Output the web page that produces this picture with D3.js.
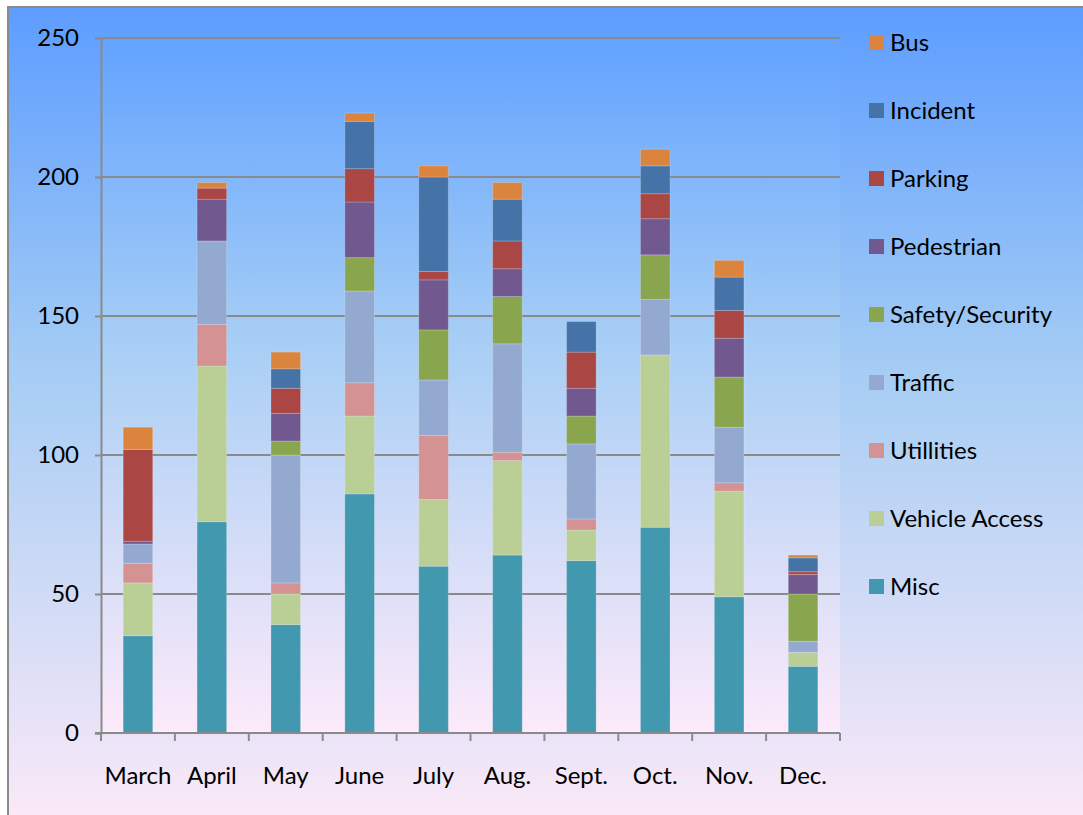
<!DOCTYPE html>
<html>
<head>
<meta charset="utf-8">
<script src="https://cdn.jsdelivr.net/npm/d3@7"></script>
<style>
  body { margin: 0; background: white; }
  text { font-family: Lato, "Open Sans", sans-serif; }
</style>
</head>
<body>
<div id="chart"></div>
<script>
/* CONSTANTS AND GLOBALS */
const width = 1083;
const height = 815;

/* DATA */
const months = ["March", "April", "May", "June", "July", "Aug.", "Sept.", "Oct.", "Nov.", "Dec."];
const categories = ["Misc", "Vehicle Access", "Utillities", "Traffic", "Safety/Security", "Pedestrian", "Parking", "Incident", "Bus"];

const misc          = [35, 76, 39, 86, 60, 64, 62, 74, 49, 24];
const vehicleAccess = [19, 56, 11, 28, 24, 34, 11, 62, 38, 5];
const utilities     = [7, 15, 4, 12, 23, 3, 4, 0, 3, 0];
const traffic       = [7, 30, 46, 33, 20, 39, 27, 20, 20, 4];
const safety        = [0, 0, 5, 12, 18, 17, 10, 16, 18, 17];
const pedestrian    = [1, 15, 10, 20, 18, 10, 10, 13, 14, 7];
const parking       = [33, 4, 9, 12, 3, 10, 13, 9, 10, 1];
const incident      = [0, 0, 7, 17, 34, 15, 11, 10, 12, 5];
const bus           = [8, 2, 6, 3, 4, 6, 0, 6, 6, 1];

const yTicks = [0, 50, 100, 150, 200, 250];

const colors = ["#4198af", "#b9cf96", "#d49292", "#94a9cf", "#89a54e", "#71588f", "#aa4643", "#4572a7", "#db843d"];

// table for d3.stack
const seriesValues = [misc, vehicleAccess, utilities, traffic, safety, pedestrian, parking, incident, bus];
const table = months.map((m, i) => {
  const row = { month: m };
  categories.forEach((c, j) => row[c] = seriesValues[j][i]);
  return row;
});

const stacked = d3.stack().keys(categories)(table);

/* SCALES */
const plot = { left: 101, right: 840, top: 38, bottom: 733 };

const xScale = d3.scaleBand()
  .domain(months)
  .range([plot.left, plot.right])
  .paddingInner(0.6)
  .paddingOuter(0.3);

const yScale = d3.scaleLinear()
  .domain([0, 250])
  .range([plot.bottom, plot.top]);

const color = d3.scaleOrdinal().domain(categories).range(colors);

/* HTML ELEMENTS */
const svg = d3.select("#chart")
  .append("svg")
  .attr("width", width)
  .attr("height", height);

const defs = svg.append("defs");
const outerGrad = defs.append("linearGradient")
  .attr("id", "outerGrad").attr("x1", 0).attr("y1", 0).attr("x2", 0).attr("y2", 1);
outerGrad.append("stop").attr("offset", "0%").attr("stop-color", "#5d9dff");
outerGrad.append("stop").attr("offset", "45%").attr("stop-color", "#a6cdf4");
outerGrad.append("stop").attr("offset", "100%").attr("stop-color", "#fbe9f8");

const plotGrad = defs.append("linearGradient")
  .attr("id", "plotGrad").attr("x1", 0).attr("y1", 0).attr("x2", 0).attr("y2", 1);
plotGrad.append("stop").attr("offset", "0%").attr("stop-color", "#62a3ff");
plotGrad.append("stop").attr("offset", "45%").attr("stop-color", "#a9cff5");
plotGrad.append("stop").attr("offset", "100%").attr("stop-color", "#fdeafa");

// outer chart area
svg.append("rect")
  .attr("x", 8).attr("y", 7)
  .attr("width", width).attr("height", height)
  .attr("fill", "url(#outerGrad)")
  .attr("stroke", "#8a8a8a")
  .attr("stroke-width", 2);

// plot area
svg.append("rect")
  .attr("x", plot.left).attr("y", plot.top)
  .attr("width", plot.right - plot.left)
  .attr("height", plot.bottom - plot.top)
  .attr("fill", "url(#plotGrad)");

// gridlines
svg.append("g")
  .selectAll("line")
  .data(yTicks.filter(d => d > 0))
  .join("line")
  .attr("x1", plot.left).attr("x2", plot.right)
  .attr("y1", d => yScale(d)).attr("y2", d => yScale(d))
  .attr("stroke", "#8a8a8a")
  .attr("stroke-width", 2);

// bars
svg.append("g")
  .selectAll("g")
  .data(stacked)
  .join("g")
  .attr("fill", d => color(d.key))
  .selectAll("rect")
  .data(d => d)
  .join("rect")
  .attr("x", d => xScale(d.data.month))
  .attr("y", d => yScale(d[1]))
  .attr("width", xScale.bandwidth())
  .attr("height", d => yScale(d[0]) - yScale(d[1]))
  .attr("stroke", d => (d[1] - d[0]) > 0 ? "rgba(255,255,255,0.2)" : "none")
  .attr("stroke-width", 1);

/* AXES */
const yAxis = d3.axisLeft(yScale)
  .tickValues(yTicks)
  .tickSize(6)
  .tickPadding(16);

const yG = svg.append("g")
  .attr("transform", `translate(${plot.left},0)`)
  .call(yAxis);
yG.select(".domain").attr("stroke", "#8a8a8a").attr("stroke-width", 2);
yG.selectAll(".tick line").attr("stroke", "#8a8a8a").attr("stroke-width", 2);
yG.selectAll(".tick text")
  .attr("font-size", 24)
  .attr("fill", "#000")
  .style("font-family", "Lato, 'Open Sans', sans-serif");

// x axis line and ticks at band boundaries
const xG = svg.append("g");
xG.append("line")
  .attr("x1", plot.left - 6).attr("x2", plot.right)
  .attr("y1", plot.bottom).attr("y2", plot.bottom)
  .attr("stroke", "#8a8a8a").attr("stroke-width", 2);

const step = xScale.step();
const boundaries = months.map(m => xScale(m) - (step - xScale.bandwidth()) / 2);
boundaries.push(boundaries[boundaries.length - 1] + step);
xG.selectAll(".xtick")
  .data(boundaries)
  .join("line")
  .attr("class", "xtick")
  .attr("x1", d => d).attr("x2", d => d)
  .attr("y1", plot.bottom).attr("y2", plot.bottom + 8)
  .attr("stroke", "#8a8a8a").attr("stroke-width", 2);

xG.selectAll(".xlabel")
  .data(months)
  .join("text")
  .attr("class", "xlabel")
  .attr("x", d => xScale(d) + xScale.bandwidth() / 2)
  .attr("y", 784)
  .attr("text-anchor", "middle")
  .attr("font-size", 24)
  .attr("fill", "#000")
  .text(d => d);

/* LEGEND */
const legendItems = categories.slice().reverse();
const legend = svg.append("g")
  .selectAll("g")
  .data(legendItems)
  .join("g")
  .attr("transform", (d, i) => `translate(869,${42.5 + i * 68})`);

legend.append("rect")
  .attr("x", 0).attr("y", -7.5)
  .attr("width", 15).attr("height", 15)
  .attr("fill", d => color(d));

legend.append("text")
  .attr("x", 21)
  .attr("y", 0)
  .attr("dy", "0.35em")
  .attr("font-size", 24)
  .attr("fill", "#000")
  .text(d => d);
</script>
</body>
</html>
